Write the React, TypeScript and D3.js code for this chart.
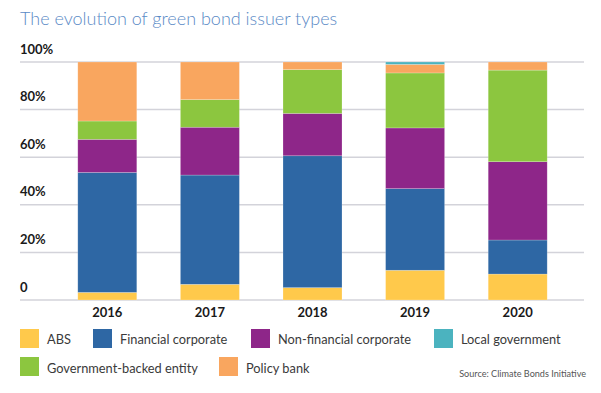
import React from "react";
import * as d3 from "d3";

const years = ["2016", "2017", "2018", "2019", "2020"];
const seriesNames = ["ABS", "Financial corporate", "Non-financial corporate", "Government-backed entity", "Policy bank", "Local government"];
const absVals = [3.2, 6.6, 5.2, 12.5, 10.9];
const financialVals = [50.4, 45.9, 55.4, 34.3, 14.3];
const nonFinancialVals = [13.9, 20.1, 17.8, 25.5, 32.9];
const govBackedVals = [7.7, 11.6, 18.4, 23.1, 38.5];
const policyBankVals = [24.8, 15.8, 3.2, 3.6, 3.4];
const localGovVals = [0, 0, 0, 1.0, 0];
const yTicks = [0, 20, 40, 60, 80, 100];
const colors: Record<string, string> = {
  "ABS": "#FFC94B",
  "Financial corporate": "#2E67A4",
  "Non-financial corporate": "#8E2689",
  "Local government": "#4BB3BF",
  "Government-backed entity": "#8CC63F",
  "Policy bank": "#F9A65F",
};
const legendRow1 = ["ABS", "Financial corporate", "Non-financial corporate", "Local government"];
const legendRow2 = ["Government-backed entity", "Policy bank"];

export default function App() {
  const W = 601, H = 393;
  const rows = years.map((y, i) => ({
    year: y,
    "ABS": absVals[i],
    "Financial corporate": financialVals[i],
    "Non-financial corporate": nonFinancialVals[i],
    "Government-backed entity": govBackedVals[i],
    "Policy bank": policyBankVals[i],
    "Local government": localGovVals[i],
  }));
  const stack = d3.stack<any>().keys(seriesNames);
  const layers = stack(rows);
  const x = d3.scaleBand().domain(years).range([56, 569]).paddingInner(0.425).paddingOuter(0.2125);
  const y = d3.scaleLinear().domain([0, 100]).range([300, 62]);
  const font = "Lato, 'Open Sans', sans-serif";
  const legendX1 = [20, 93, 251, 434];
  const legendX2 = [20, 219];
  return (
    <svg width={W} height={H} style={{ position: "absolute", left: 0, top: 0 }}>
      <text x={20} y={25} fontFamily={font} fontSize={18} fontWeight={300} fill="#5A8AC6">The evolution of green bond issuer types</text>
      {yTicks.map((t) => (
        <g key={t}>
          <line x1={20} x2={584} y1={y(t)} y2={y(t)} stroke="#D3D3DA" strokeWidth={1.5} />
          <text x={20} y={y(t) - 8.5} fontFamily={font} fontSize={13} fontWeight={700} fill="#1a1a1a">{t === 0 ? "0" : `${t}%`}</text>
        </g>
      ))}
      {layers.map((layer) => (
        <g key={layer.key} fill={colors[layer.key]}>
          {layer.map((d, i) => (
            d[1] - d[0] > 0 ? (
              <rect key={i} x={x(years[i])} width={x.bandwidth()} y={y(d[1])} height={y(d[0]) - y(d[1])} stroke="#ffffff" strokeOpacity={0.35} strokeWidth={0.6} />
            ) : null
          ))}
        </g>
      ))}
      {years.map((yr) => (
        <text key={yr} x={(x(yr) as number) + x.bandwidth() / 2} y={317} textAnchor="middle" fontFamily={font} fontSize={13} fontWeight={700} fill="#1a1a1a">{yr}</text>
      ))}
      {legendRow1.map((k, i) => (
        <g key={k}>
          <rect x={legendX1[i]} y={329} width={19} height={19} fill={colors[k]} />
          <text x={legendX1[i] + 27} y={343.5} fontFamily={font} fontSize={12.8} fill="#3a3a3a">{k}</text>
        </g>
      ))}
      {legendRow2.map((k, i) => (
        <g key={k}>
          <rect x={legendX2[i]} y={357} width={19} height={19} fill={colors[k]} />
          <text x={legendX2[i] + 27} y={372.5} fontFamily={font} fontSize={12.8} fill="#3a3a3a">{k}</text>
        </g>
      ))}
      <text x={586} y={377} textAnchor="end" fontFamily={font} fontSize={9.1} fill="#555">Source: Climate Bonds Initiative</text>
    </svg>
  );
}
